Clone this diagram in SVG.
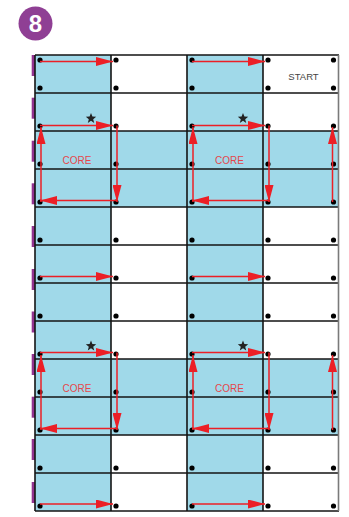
<svg xmlns="http://www.w3.org/2000/svg" width="349" height="517" viewBox="0 0 349 517">
  <style>
    .blue { fill: #a0d9e9; }
    .white { fill: #ffffff; }
    .gl { stroke: #151515; stroke-width: 1.6; fill: none; }
    .dot { fill: #000; }
    .bar { fill: #92338f; }
    .arr { stroke: #ec1f26; stroke-width: 1.5; fill: none; marker-end: url(#ah); }
    .core { font-family: "Liberation Sans", Arial, sans-serif; font-size: 10px; fill: #e5474b; text-anchor: middle; }
    .start { font-family: "Liberation Sans", Arial, sans-serif; font-size: 9.5px; fill: #444; text-anchor: middle; }
    .star { fill: #222; }
  </style>
  <defs>
    <marker id="ah" viewBox="0 0 17 9" markerWidth="17" markerHeight="9" refX="17" refY="4.5" orient="auto" markerUnits="userSpaceOnUse">
      <path d="M0,0 L17,4.5 L0,9 z" fill="#ec1f26"/>
    </marker>
    <path id="st" d="M0,-5.5 L1.4,-1.9 L5.2,-1.7 L2.2,0.7 L3.2,4.4 L0,2.3 L-3.2,4.4 L-2.2,0.7 L-5.2,-1.7 L-1.4,-1.9 z"/>
  </defs>

  <g id="badge">
    <circle cx="35.5" cy="23.5" r="17" fill="#8f3f94"/>
    <text x="35.5" y="32" font-family="Liberation Sans, Arial, sans-serif" font-size="24" font-weight="bold" fill="#fff" text-anchor="middle">8</text>
  </g>

  <g id="side-marks">
    <rect class="bar" x="31.7" y="55" width="3.4" height="21"/>
    <rect class="bar" x="31.7" y="97.7" width="3.4" height="21"/>
    <rect class="bar" x="31.7" y="140.7" width="3.4" height="21"/>
    <rect class="bar" x="31.7" y="183.3" width="3.4" height="21"/>
    <rect class="bar" x="31.7" y="226" width="3.4" height="21"/>
    <rect class="bar" x="31.7" y="269" width="3.4" height="21"/>
    <rect class="bar" x="31.7" y="311.5" width="3.4" height="21"/>
    <rect class="bar" x="31.7" y="354" width="3.4" height="21"/>
    <rect class="bar" x="31.7" y="396.7" width="3.4" height="21"/>
    <rect class="bar" x="31.7" y="439" width="3.4" height="21"/>
    <rect class="bar" x="31.7" y="482" width="3.4" height="21"/>
  </g>

  <g id="cells">
    <rect class="white" x="35" y="55" width="304" height="456"/>
    <rect class="blue" x="35" y="55" width="76" height="456"/>
    <rect class="blue" x="187" y="55" width="76" height="456"/>
    <rect class="blue" x="111" y="131" width="76" height="76"/>
    <rect class="blue" x="263" y="131" width="76" height="76"/>
    <rect class="blue" x="111" y="359" width="76" height="76"/>
    <rect class="blue" x="263" y="359" width="76" height="76"/>
  </g>

  <g id="grid-lines">
    <path class="gl" d="M35,55 H339 M35,93 H339 M35,131 H339 M35,169 H339 M35,207 H339 M35,245 H339 M35,283 H339 M35,321 H339 M35,359 H339 M35,397 H339 M35,435 H339 M35,473 H339 M35,511 H339"/>
    <path class="gl" d="M35,55 V511 M111,55 V511 M187,55 V511 M263,55 V511"/>
    <path d="M338.5,55 V511" stroke="#7a7a7a" stroke-width="1.6"/>
  </g>

  <g id="dots">
    <g class="dot">
      <circle cx="40" cy="60" r="2.6"/><circle cx="116" cy="60" r="2.6"/><circle cx="192" cy="60" r="2.6"/><circle cx="268" cy="60" r="2.6"/><circle cx="333.5" cy="60" r="2.6"/>
      <circle cx="40" cy="88" r="2.6"/><circle cx="116" cy="88" r="2.6"/><circle cx="192" cy="88" r="2.6"/><circle cx="268" cy="88" r="2.6"/><circle cx="333.5" cy="88" r="2.6"/>
      <circle cx="40" cy="126" r="2.6"/><circle cx="116" cy="126" r="2.6"/><circle cx="192" cy="126" r="2.6"/><circle cx="268" cy="126" r="2.6"/><circle cx="333.5" cy="126" r="2.6"/>
      <circle cx="40" cy="164" r="2.6"/><circle cx="116" cy="164" r="2.6"/><circle cx="192" cy="164" r="2.6"/><circle cx="268" cy="164" r="2.6"/><circle cx="333.5" cy="164" r="2.6"/>
      <circle cx="40" cy="202" r="2.6"/><circle cx="116" cy="202" r="2.6"/><circle cx="192" cy="202" r="2.6"/><circle cx="268" cy="202" r="2.6"/><circle cx="333.5" cy="202" r="2.6"/>
      <circle cx="40" cy="240" r="2.6"/><circle cx="116" cy="240" r="2.6"/><circle cx="192" cy="240" r="2.6"/><circle cx="268" cy="240" r="2.6"/><circle cx="333.5" cy="240" r="2.6"/>
      <circle cx="40" cy="278" r="2.6"/><circle cx="116" cy="278" r="2.6"/><circle cx="192" cy="278" r="2.6"/><circle cx="268" cy="278" r="2.6"/><circle cx="333.5" cy="278" r="2.6"/>
      <circle cx="40" cy="316" r="2.6"/><circle cx="116" cy="316" r="2.6"/><circle cx="192" cy="316" r="2.6"/><circle cx="268" cy="316" r="2.6"/><circle cx="333.5" cy="316" r="2.6"/>
      <circle cx="40" cy="354" r="2.6"/><circle cx="116" cy="354" r="2.6"/><circle cx="192" cy="354" r="2.6"/><circle cx="268" cy="354" r="2.6"/><circle cx="333.5" cy="354" r="2.6"/>
      <circle cx="40" cy="392" r="2.6"/><circle cx="116" cy="392" r="2.6"/><circle cx="192" cy="392" r="2.6"/><circle cx="268" cy="392" r="2.6"/><circle cx="333.5" cy="392" r="2.6"/>
      <circle cx="40" cy="430" r="2.6"/><circle cx="116" cy="430" r="2.6"/><circle cx="192" cy="430" r="2.6"/><circle cx="268" cy="430" r="2.6"/><circle cx="333.5" cy="430" r="2.6"/>
      <circle cx="40" cy="468" r="2.6"/><circle cx="116" cy="468" r="2.6"/><circle cx="192" cy="468" r="2.6"/><circle cx="268" cy="468" r="2.6"/><circle cx="333.5" cy="468" r="2.6"/>
      <circle cx="40" cy="506" r="2.6"/><circle cx="116" cy="506" r="2.6"/><circle cx="192" cy="506" r="2.6"/><circle cx="268" cy="506" r="2.6"/><circle cx="333.5" cy="506" r="2.6"/>
    </g>
  </g>

  <g id="labels">
    <text class="start" x="303.5" y="79.5">START</text>
    <text class="core" x="77" y="163.5">CORE</text>
    <text class="core" x="229.5" y="163.5">CORE</text>
    <text class="core" x="77" y="391.5">CORE</text>
    <text class="core" x="229.5" y="391.5">CORE</text>
  </g>

  <g id="stars" class="star">
    <use href="#st" x="91" y="118.5"/>
    <use href="#st" x="243" y="118.5"/>
    <use href="#st" x="91" y="346"/>
    <use href="#st" x="243" y="346"/>
  </g>

  <g id="connectors">
    <path class="arr" d="M40,61.5 H113"/>
    <path class="arr" d="M192,61.5 H265"/>
    <path class="arr" d="M40,125.5 H113"/>
    <path class="arr" d="M192,125.5 H265"/>
    <path class="arr" d="M117,125.5 V202"/>
    <path class="arr" d="M269,125.5 V202"/>
    <path class="arr" d="M117,200.5 H40"/>
    <path class="arr" d="M269,200.5 H192"/>
    <path class="arr" d="M41,202 V127"/>
    <path class="arr" d="M193,202 V127"/>
    <path class="arr" d="M332.5,202 V127"/>
    <path class="arr" d="M40,276.5 H113"/>
    <path class="arr" d="M192,276.5 H265"/>
    <path class="arr" d="M40,352.5 H113"/>
    <path class="arr" d="M192,352.5 H265"/>
    <path class="arr" d="M117,352.5 V430"/>
    <path class="arr" d="M269,352.5 V430"/>
    <path class="arr" d="M117,428.5 H40"/>
    <path class="arr" d="M269,428.5 H192"/>
    <path class="arr" d="M41,430 V355"/>
    <path class="arr" d="M193,430 V355"/>
    <path class="arr" d="M332.5,430 V355"/>
    <path class="arr" d="M40,504 H113"/>
    <path class="arr" d="M192,504 H265"/>
  </g>
</svg>
